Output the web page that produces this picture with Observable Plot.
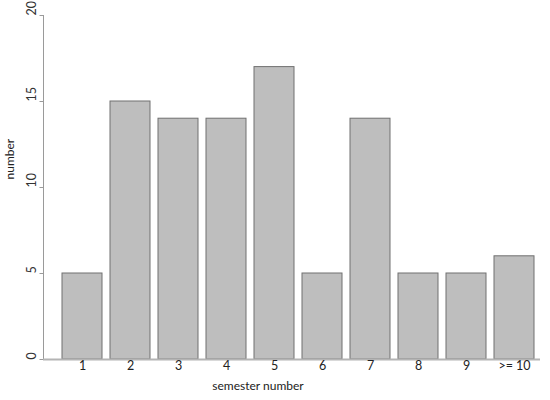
<!DOCTYPE html>
<html>
<head>
<meta charset="utf-8">
<script src="https://cdn.jsdelivr.net/npm/d3@7"></script>
<script src="https://cdn.jsdelivr.net/npm/@observablehq/plot@0.6"></script>
<style>
  html, body { margin: 0; padding: 0; background: #fff; }
  #chart svg { display: block; }
</style>
</head>
<body>
<div id="chart"></div>
<script>
const semesters = ["1", "2", "3", "4", "5", "6", "7", "8", "9", ">= 10"];
const counts = [5, 15, 14, 14, 17, 5, 14, 5, 5, 6];
const yTicks = [0, 5, 10, 15, 20];
const xTitle = "semester number";
const yTitle = "number";

const data = semesters.map((s, i) => ({semester: s, n: counts[i]}));
const svgns = "http://www.w3.org/2000/svg";

function axisLines(index, scales, values, dims) {
  const g = document.createElementNS(svgns, "g");
  const y = scales.y;
  const x0 = dims.marginLeft;
  const mk = (x1, y1, x2, y2, color, w) => {
    const l = document.createElementNS(svgns, "line");
    l.setAttribute("x1", x1); l.setAttribute("y1", y1);
    l.setAttribute("x2", x2); l.setAttribute("y2", y2);
    l.setAttribute("stroke", color); l.setAttribute("stroke-width", w);
    g.appendChild(l);
  };
  mk(x0 + 0.5, y(yTicks[0]), x0 + 0.5, y(yTicks[yTicks.length - 1]), "#9a9a9a", 1);
  for (const t of yTicks) mk(x0 - 3.5, Math.round(y(t)) + 0.5, x0 + 0.5, Math.round(y(t)) + 0.5, "#9a9a9a", 1);
  mk(x0, y(0) + 0.5, dims.width - dims.marginRight, y(0) + 0.5, "#b4b4b4", 2);
  return g;
}

const chart = Plot.plot({
  width: 550,
  height: 400,
  marginTop: 15,
  marginBottom: 41,
  marginLeft: 43,
  marginRight: 10,
  style: {fontFamily: "Lato, sans-serif", fontSize: "12px", color: "#222", background: "#fff"},
  x: {domain: semesters, paddingInner: 1/6, paddingOuter: 0.26, align: 0.76, axis: null},
  y: {domain: [0, 20], axis: null},
  marks: [
    Plot.barY(data, {x: "semester", y: "n", fill: "#bebebe", stroke: "#707070", strokeWidth: 1}),
    axisLines,
    Plot.text(yTicks, {y: d => d, text: d => String(d), frameAnchor: "left", dx: -12, rotate: -90, fill: "#333", fontSize: 12.5}),
    Plot.text(semesters, {x: d => d, text: d => d, frameAnchor: "bottom", dy: 10, fill: "#222", fontSize: 12.5}),
    Plot.text([xTitle], {text: d => d, frameAnchor: "bottom", dx: -34, dy: 30, fill: "#222", fontSize: 12}),
    Plot.text([yTitle], {text: d => d, frameAnchor: "left", dx: -33, dy: -8, rotate: -90, fill: "#222", fontSize: 12})
  ]
});
document.getElementById("chart").appendChild(chart);
</script>
</body>
</html>
